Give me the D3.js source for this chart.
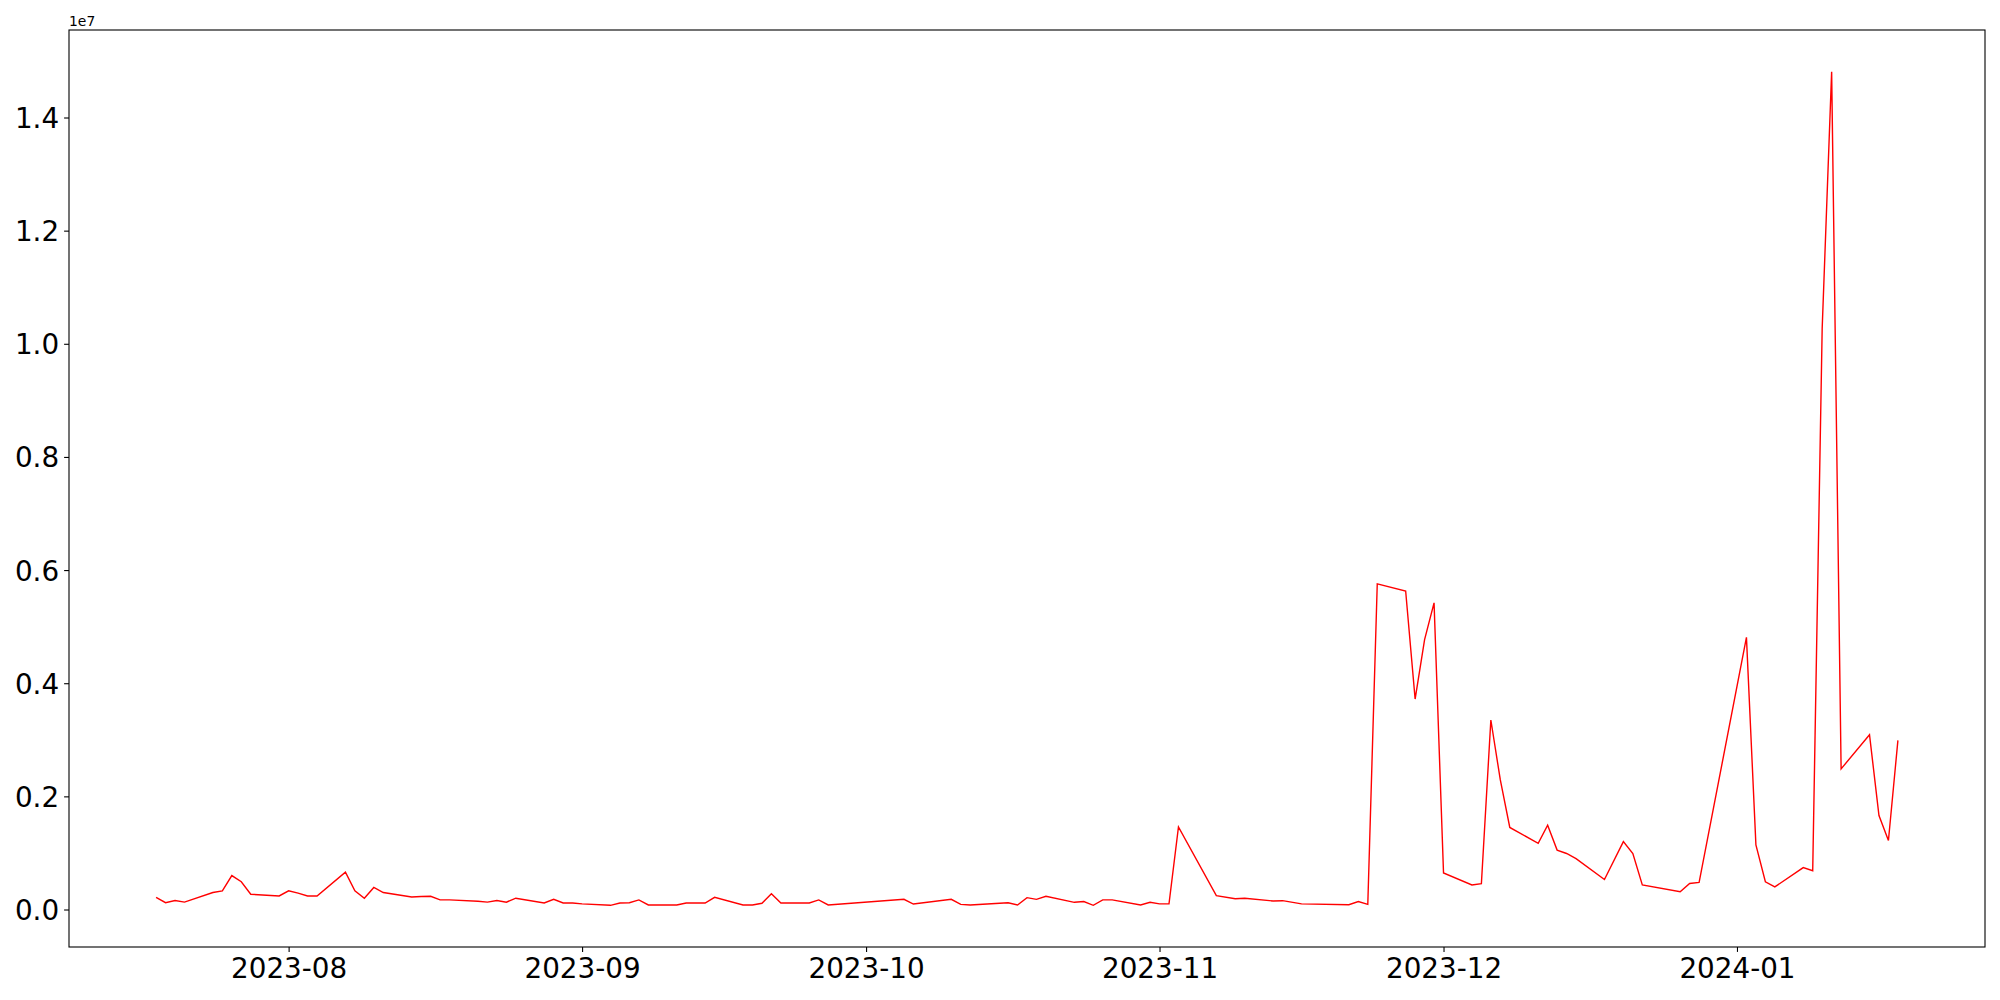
<!DOCTYPE html>
<html>
<head>
<meta charset="utf-8">
<script src="https://cdn.jsdelivr.net/npm/d3@7"></script>
<style>
  body { margin: 0; background: #fff; }
  svg text { font-family: "DejaVu Sans", sans-serif; fill: #000; }
  .axis path, .axis line { stroke: #000; stroke-width: 1.1; }
</style>
</head>
<body>
<svg id="chart" width="2000" height="1000"></svg>
<script>
// daily values
var dates = [
  "2023-07-18","2023-07-19","2023-07-20","2023-07-21","2023-07-24","2023-07-25","2023-07-26","2023-07-27","2023-07-28","2023-07-31",
  "2023-08-01","2023-08-02","2023-08-03","2023-08-04","2023-08-07","2023-08-08","2023-08-09","2023-08-10","2023-08-11","2023-08-14",
  "2023-08-15","2023-08-16","2023-08-17","2023-08-18","2023-08-21","2023-08-22","2023-08-23","2023-08-24","2023-08-25","2023-08-28",
  "2023-08-29","2023-08-30","2023-08-31","2023-09-01","2023-09-04","2023-09-05","2023-09-06","2023-09-07","2023-09-08","2023-09-11",
  "2023-09-12","2023-09-13","2023-09-14","2023-09-15","2023-09-18","2023-09-19","2023-09-20","2023-09-21","2023-09-22","2023-09-25",
  "2023-09-26","2023-09-27","2023-10-05","2023-10-06","2023-10-10","2023-10-11","2023-10-12","2023-10-16","2023-10-17","2023-10-18",
  "2023-10-19","2023-10-20","2023-10-23","2023-10-24","2023-10-25","2023-10-26","2023-10-27","2023-10-30","2023-10-31","2023-11-01",
  "2023-11-02","2023-11-03","2023-11-07","2023-11-09","2023-11-10","2023-11-13","2023-11-14","2023-11-16","2023-11-21","2023-11-22",
  "2023-11-23","2023-11-24","2023-11-27","2023-11-28","2023-11-29","2023-11-30","2023-12-01","2023-12-04","2023-12-05","2023-12-06",
  "2023-12-07","2023-12-08","2023-12-11","2023-12-12","2023-12-13","2023-12-14","2023-12-15","2023-12-18","2023-12-20","2023-12-21",
  "2023-12-22","2023-12-26","2023-12-27","2023-12-28","2024-01-02","2024-01-03","2024-01-04","2024-01-05","2024-01-08","2024-01-09",
  "2024-01-10","2024-01-11","2024-01-12","2024-01-15","2024-01-16","2024-01-17","2024-01-18"
];
var values = [
  216000,120000,160000,130000,300000,330000,600000,490000,270000,240000,
  330000,290000,240000,240000,660000,330000,200000,390000,300000,220000,
  230000,233000,170000,170000,145000,130000,160000,130000,200000,115000,
  180000,115000,115000,100000,74000,115000,120000,170000,80000,80000,
  115000,115000,115000,215000,80000,80000,110000,280000,115000,115000,
  170000,80000,180000,97000,180000,90000,80000,120000,80000,210000,
  180000,233000,127000,140000,74000,170000,170000,80000,127000,100000,
  100000,1460000,244000,190000,200000,150000,156000,100000,85000,140000,
  90000,5757000,5630000,3720000,4770000,5420000,645000,433000,456000,3350000,
  2290000,1450000,1170000,1490000,1050000,990000,900000,530000,1200000,990000,
  433000,315000,460000,480000,4810000,1140000,490000,400000,740000,685000,
  10270000,14810000,2486000,3090000,1660000,1220000,2990000
];
var yTicks = [0, 2e6, 4e6, 6e6, 8e6, 10e6, 12e6, 14e6];

var margin = {left: 69, top: 30, right: 15, bottom: 53};
var W = 2000, H = 1000;
var w = W - margin.left - margin.right, h = H - margin.top - margin.bottom;

var parse = d3.utcParse("%Y-%m-%d");
var data = dates.map(function(d, i) { return {date: parse(d), value: values[i]}; });

// matplotlib style 5% margins
var xe = d3.extent(data, function(d) { return +d.date; });
var xpad = (xe[1] - xe[0]) * 0.05;
var ye = d3.extent(data, function(d) { return d.value; });
var ypad = (ye[1] - ye[0]) * 0.05;

var x = d3.scaleUtc().domain([new Date(xe[0] - xpad), new Date(xe[1] + xpad)]).range([0, w]);
var y = d3.scaleLinear().domain([ye[0] - ypad, ye[1] + ypad]).range([h, 0]);

var svg = d3.select("#chart").append("g")
  .attr("transform", "translate(" + margin.left + "," + margin.top + ")");

var line = d3.line()
  .x(function(d) { return x(d.date); })
  .y(function(d) { return y(d.value); });

svg.append("path")
  .datum(data)
  .attr("fill", "none")
  .attr("stroke", "#ff0000")
  .attr("stroke-width", 1.4)
  .attr("stroke-linejoin", "miter")
  .attr("d", line);

var xaxis = d3.axisBottom(x).ticks(d3.utcMonth.every(1)).tickFormat(d3.utcFormat("%Y-%m"))
  .tickSizeInner(4.9).tickSizeOuter(0).tickPadding(5);
var yaxis = d3.axisLeft(y).tickValues(yTicks).tickFormat(function(d) { return (d / 1e7).toFixed(1); })
  .tickSizeInner(4.9).tickSizeOuter(0).tickPadding(5);

var gx = svg.append("g").attr("class", "axis").attr("transform", "translate(0," + h + ")").call(xaxis);
gx.select(".domain").remove();
gx.selectAll("text").style("font-size", "27.8px").attr("dy", "0.76em");

var gy = svg.append("g").attr("class", "axis").call(yaxis);
gy.select(".domain").remove();
gy.selectAll("text").style("font-size", "27.8px").attr("dy", "0.36em");

// frame
svg.append("rect")
  .attr("width", w).attr("height", h)
  .attr("fill", "none").attr("stroke", "#000").attr("stroke-width", 1.1);

// offset text
svg.append("text")
  .attr("x", 0).attr("y", -4)
  .style("font-size", "13.9px")
  .text("1e7");
</script>
</body>
</html>
